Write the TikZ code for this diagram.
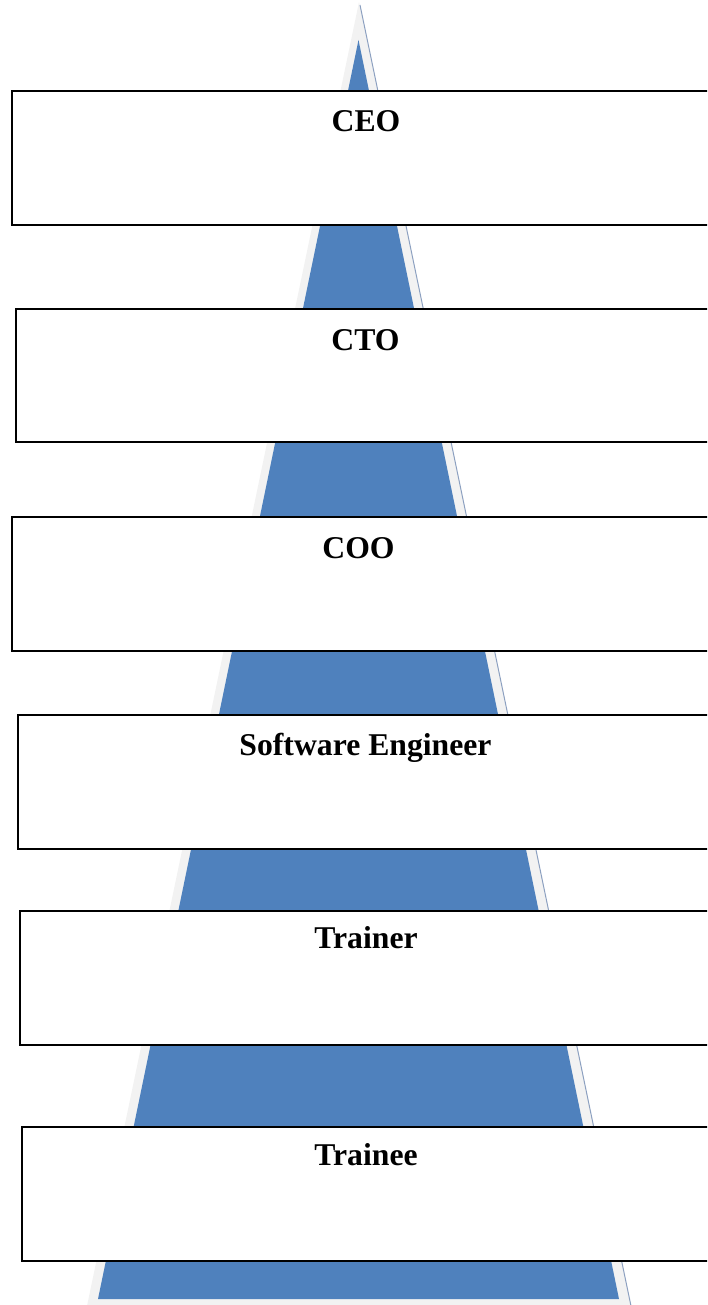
\documentclass[tikz,border=0pt]{standalone}
\usepackage{fontspec}
\setmainfont{Liberation Serif}
\definecolor{pyrblue}{RGB}{79,129,189}
\definecolor{pyrshade}{RGB}{242,242,242}
\definecolor{pyredge}{RGB}{140,160,192}
\begin{document}
\begin{tikzpicture}[x=1pt,y=-1pt,
  levelbox/.style={draw=black,line width=1.5pt,fill=white},
  leveltext/.style={anchor=base,inner sep=0pt,font=\bfseries\fontsize{31.7}{36}\selectfont}]
\useasboundingbox (0,0) rectangle (707,1305);
\clip (0,0) rectangle (707,1305);
% shadow triangle
\fill[pyrshade] (359,2) -- (631,1306) -- (87,1306) -- cycle;
\draw[pyredge,line width=1pt] (360,5) -- (631,1306);
% blue triangle
\fill[pyrblue] (358.5,40) -- (619,1299) -- (98,1299) -- cycle;
% boxes
\draw[levelbox] (12,91) rectangle (730,225);
\draw[levelbox] (16,309) rectangle (730,442);
\draw[levelbox] (12,517) rectangle (730,651);
\draw[levelbox] (18,715) rectangle (730,849);
\draw[levelbox] (20,911) rectangle (730,1045);
\draw[levelbox] (22,1127) rectangle (730,1261);
% labels
\node[leveltext] (ceo) at (366,132) {CEO};
\node[leveltext] (cto) at (365.5,350) {CTO};
\node[leveltext] (coo) at (358.5,558) {COO};
\node[leveltext] (swe) at (365.5,755) {Software Engineer};
\node[leveltext] (trainer) at (366,948) {Trainer};
\node[leveltext] (trainee) at (366,1165) {Trainee};
\end{tikzpicture}
\end{document}
